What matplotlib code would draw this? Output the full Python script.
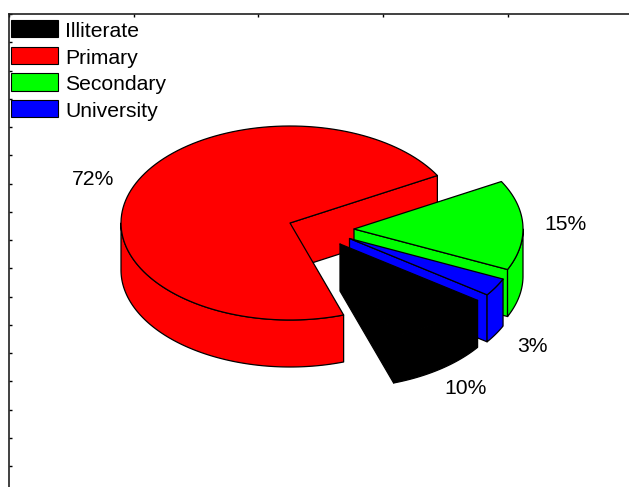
import matplotlib
matplotlib.use('Agg')
import matplotlib.pyplot as plt
import numpy as np
from matplotlib.patches import Polygon, Patch

labels = ['Illiterate', 'Primary', 'Secondary', 'University']
values = [10, 72, 15, 3]
colors = ['#000000', '#ff0000', '#00ff00', '#0000ff']

# how far each slice is pulled away from the pie centre, in pixels
shift_x = [50, 0, 64, 59.5]
shift_y = [21, 0, 6, 15.5]
draw_order = [1, 2, 3, 0]

cx, cy = 281, 209
rx, ry = 169, 97
depth = 47
start = -35.5


def arc(x0, y0, a1, a2, drop=0):
    t = np.radians(np.linspace(a1, a2, 120))
    return np.column_stack([x0 + rx * np.cos(t), y0 - ry * np.sin(t) + drop])


def add_poly(ax, pts, color):
    ax.add_patch(Polygon(pts, closed=True, facecolor=color, edgecolor='black',
                         linewidth=0.9, joinstyle='round', clip_on=False))


def draw_slice(ax, i, a1, a2):
    x0 = cx + shift_x[i]
    y0 = cy + shift_y[i]
    c = colors[i]

    # cut walls, only the ones turned towards the viewer
    for a, visible in ((a1, np.cos(np.radians(a1)) > 0), (a2, np.cos(np.radians(a2)) < 0)):
        if visible:
            edge = arc(x0, y0, a, a)[0]
            add_poly(ax, [(x0, y0), edge, edge + (0, depth), (x0, y0 + depth)], c)

    # outer wall only where the rim faces the viewer
    for k in range(-2, 1):
        lo = max(a1, 180 + 360 * k)
        hi = min(a2, 360 + 360 * k)
        if lo < hi:
            top = arc(x0, y0, lo, hi)
            low = arc(x0, y0, lo, hi, depth)
            add_poly(ax, np.vstack([top, low[::-1]]), c)

    add_poly(ax, np.vstack([[(x0, y0)], arc(x0, y0, a1, a2)]), c)


def main():
    fig = plt.figure(figsize=(6.29, 4.87), dpi=100)
    ax = fig.add_axes([9 / 629, 0, 620 / 629, 473 / 487])
    ax.set_xlim(0, 620)
    ax.set_ylim(473, 0)

    for s in ['right', 'bottom']:
        ax.spines[s].set_visible(False)
    for s in ['top', 'left']:
        ax.spines[s].set_linewidth(1.2)
        ax.spines[s].set_color('#202020')
    ax.xaxis.tick_top()
    ax.set_xticks(np.arange(0, 620, 124.7))
    ax.set_yticks(np.arange(0, 473, 28.25))
    ax.tick_params(direction='in', length=2, width=1, labeltop=False, labelleft=False)

    # slices run clockwise in legend order
    sweep = np.array(values) / sum(values) * 360
    ends = start - np.cumsum(sweep)
    begins = ends + sweep

    for i in draw_order:
        draw_slice(ax, i, ends[i], begins[i])

    for i in range(len(values)):
        mid = np.radians((ends[i] + begins[i]) / 2)
        x = cx + shift_x[i] + 1.25 * rx * np.cos(mid)
        y = cy + shift_y[i] - 1.25 * ry * np.sin(mid)
        if np.sin(mid) < -0.1:
            y += depth
        ax.text(x, y, '%d%%' % values[i], ha='center', va='center',
                fontsize=15.2, family='Liberation Sans', color='black')

    handles = [Patch(facecolor=c, edgecolor='black', linewidth=0.8) for c in colors]
    leg = ax.legend(handles, labels, loc='upper left', bbox_to_anchor=(2 / 620, 1 - 6 / 473),
                    frameon=False, borderpad=0, borderaxespad=0, handlelength=2.23,
                    handleheight=0.88, handletextpad=0.34, labelspacing=0.32,
                    prop={'family': 'Liberation Sans', 'size': 15.2})
    # labels sit a little lower than the swatches
    for t in leg.get_texts():
        t.set_y(-1.2)

    fig.savefig('out.png', dpi=100)


if __name__ == '__main__':
    main()
